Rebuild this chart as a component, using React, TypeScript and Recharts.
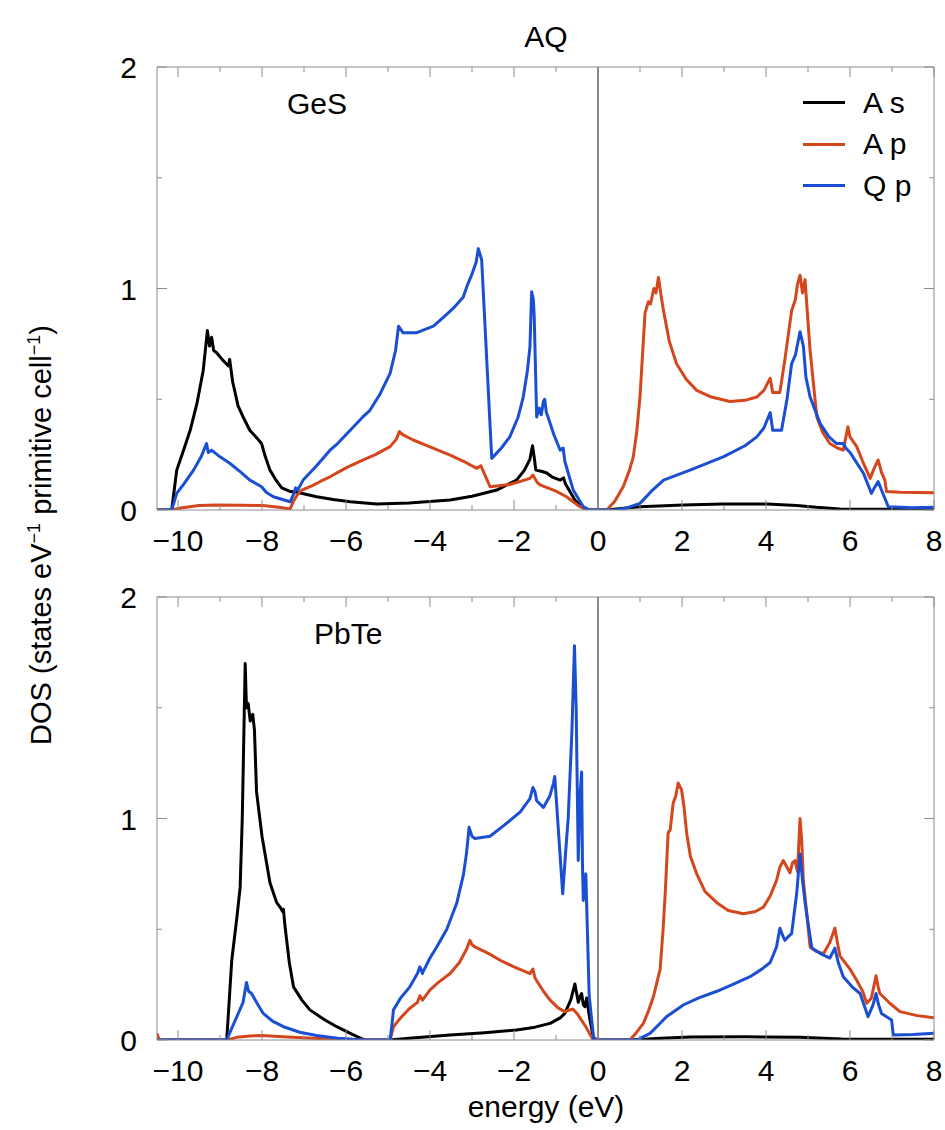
import React from 'react'
import { LineChart, Line, XAxis, YAxis, ReferenceLine, Legend } from 'recharts'

type Pt = [number, number]

// axis ticks
const xTicks = [-10, -9, -8, -7, -6, -5, -4, -3, -2, -1, 0, 1, 2, 3, 4, 5, 6, 7, 8]
const yTicks = [0, 0.5, 1, 1.5, 2]
const xMajor = [-10, -8, -6, -4, -2, 0, 2, 4, 6, 8]
const yMajor = [0, 1, 2]

const seriesNames = ['A s', 'A p', 'Q p']

// GeS panel
const gesAs: Pt[] = [
  [-10.5, 0], [-10.15, 0], [-10.03, 0.18], [-9.85, 0.28], [-9.71, 0.36], [-9.55, 0.48], [-9.4, 0.63],
  [-9.3, 0.81], [-9.25, 0.74], [-9.2, 0.78], [-9.15, 0.72], [-9.08, 0.71], [-8.95, 0.68], [-8.8, 0.65],
  [-8.77, 0.68], [-8.7, 0.58], [-8.57, 0.47], [-8.45, 0.42], [-8.29, 0.36], [-8.1, 0.32], [-8.01, 0.3],
  [-7.92, 0.24], [-7.81, 0.18], [-7.65, 0.13], [-7.53, 0.1], [-7.35, 0.085], [-7.17, 0.08], [-6.7, 0.06],
  [-6.3, 0.047], [-5.9, 0.037], [-5.27, 0.027], [-4.5, 0.032], [-3.52, 0.045], [-3.0, 0.062], [-2.41, 0.09],
  [-1.94, 0.135], [-1.75, 0.18], [-1.62, 0.23], [-1.56, 0.29], [-1.52, 0.24], [-1.48, 0.18], [-1.35, 0.175],
  [-1.22, 0.167], [-1.1, 0.15], [-0.9, 0.135], [-0.82, 0.145], [-0.78, 0.12], [-0.55, 0.045], [-0.35, 0.01],
  [-0.2, 0], [0.2, 0], [0.5, 0.006], [1, 0.015], [2.03, 0.023], [2.98, 0.027], [4.02, 0.027], [4.73, 0.02],
  [5.2, 0.012], [5.76, 0.005], [6.5, 0.003], [8, 0.003],
]
const gesAp: Pt[] = [
  [-10.5, 0], [-10.15, 0], [-9.9, 0.01], [-9.5, 0.02], [-9.08, 0.023], [-8.5, 0.022], [-7.98, 0.02],
  [-7.6, 0.012], [-7.33, 0.005], [-7.25, 0.04], [-7.13, 0.077], [-7.05, 0.09], [-6.8, 0.11], [-6.6, 0.13],
  [-6.38, 0.15], [-6.0, 0.19], [-5.59, 0.226], [-5.3, 0.25], [-4.95, 0.286], [-4.8, 0.32], [-4.73, 0.354],
  [-4.65, 0.34], [-4.4, 0.316], [-4.0, 0.285], [-3.52, 0.248], [-3.2, 0.22], [-2.89, 0.188], [-2.79, 0.2],
  [-2.72, 0.17], [-2.57, 0.105], [-2.1, 0.115], [-1.75, 0.135], [-1.62, 0.143], [-1.55, 0.158], [-1.45, 0.125],
  [-1.38, 0.113], [-1.0, 0.085], [-0.75, 0.06], [-0.43, 0.015], [-0.25, 0], [0.21, 0], [0.4, 0.04], [0.6, 0.105],
  [0.75, 0.18], [0.84, 0.24], [0.92, 0.35], [1.0, 0.51], [1.06, 0.7], [1.12, 0.89], [1.2, 0.94], [1.25, 0.93],
  [1.33, 1.0], [1.38, 0.98], [1.44, 1.05], [1.5, 0.97], [1.56, 0.9], [1.7, 0.76], [1.87, 0.66], [2.1, 0.59],
  [2.35, 0.54], [2.7, 0.51], [3.14, 0.49], [3.5, 0.495], [3.78, 0.51], [3.95, 0.54], [4.1, 0.595], [4.16, 0.53],
  [4.33, 0.53], [4.45, 0.68], [4.61, 0.9], [4.7, 0.95], [4.75, 1.02], [4.81, 1.06], [4.87, 0.98], [4.93, 1.04],
  [5.0, 0.85], [5.05, 0.72], [5.21, 0.42], [5.35, 0.35], [5.52, 0.3], [5.7, 0.28], [5.84, 0.27], [5.95, 0.376],
  [6.0, 0.33], [6.16, 0.286], [6.3, 0.22], [6.48, 0.143], [6.58, 0.19], [6.67, 0.226], [6.75, 0.17],
  [6.83, 0.135], [6.87, 0.083], [7.2, 0.08], [8, 0.078],
]
const gesQp: Pt[] = [
  [-10.5, 0], [-10.15, 0], [-10.03, 0.075], [-9.85, 0.12], [-9.63, 0.18], [-9.45, 0.24], [-9.32, 0.3],
  [-9.28, 0.26], [-9.2, 0.27], [-9.0, 0.24], [-8.76, 0.21], [-8.5, 0.17], [-8.29, 0.135], [-8.01, 0.105],
  [-7.9, 0.08], [-7.73, 0.06], [-7.33, 0.037], [-7.25, 0.07], [-7.2, 0.1], [-7.15, 0.09], [-7.02, 0.135],
  [-6.7, 0.2], [-6.38, 0.27], [-6.2, 0.3], [-5.9, 0.36], [-5.6, 0.42], [-5.43, 0.45], [-5.2, 0.52],
  [-4.95, 0.617], [-4.82, 0.72], [-4.75, 0.83], [-4.64, 0.8], [-4.33, 0.8], [-3.92, 0.83], [-3.68, 0.87],
  [-3.45, 0.91], [-3.21, 0.96], [-3.1, 1.02], [-3.01, 1.06], [-2.9, 1.12], [-2.85, 1.18], [-2.77, 1.13],
  [-2.53, 0.233], [-2.3, 0.28], [-2.1, 0.33], [-1.9, 0.42], [-1.78, 0.51], [-1.68, 0.63], [-1.62, 0.737],
  [-1.58, 0.985], [-1.54, 0.95], [-1.52, 0.88], [-1.46, 0.42], [-1.4, 0.46], [-1.35, 0.43], [-1.3, 0.49],
  [-1.27, 0.5], [-1.23, 0.44], [-1.19, 0.42], [-1.05, 0.34], [-0.9, 0.27], [-0.83, 0.28], [-0.79, 0.22],
  [-0.59, 0.09], [-0.35, 0.015], [-0.2, 0], [0.45, 0], [0.7, 0.01], [1.0, 0.03], [1.3, 0.09], [1.56, 0.135],
  [2.19, 0.18], [2.98, 0.24], [3.5, 0.29], [3.78, 0.33], [3.95, 0.37], [4.1, 0.44], [4.16, 0.36], [4.37, 0.36],
  [4.5, 0.5], [4.61, 0.66], [4.7, 0.7], [4.81, 0.805], [4.89, 0.74], [4.95, 0.6], [5.05, 0.51], [5.29, 0.39],
  [5.5, 0.33], [5.68, 0.3], [5.84, 0.3], [5.9, 0.28], [6.0, 0.26], [6.32, 0.166], [6.51, 0.075], [6.58, 0.1],
  [6.67, 0.128], [6.75, 0.09], [6.91, 0.015], [7.5, 0.01], [8, 0.012],
]

// PbTe panel
const pbteAs: Pt[] = [
  [-10.5, 0], [-8.84, 0], [-8.72, 0.36], [-8.6, 0.55], [-8.52, 0.69], [-8.47, 1.0], [-8.43, 1.4], [-8.4, 1.7],
  [-8.37, 1.5], [-8.33, 1.52], [-8.28, 1.44], [-8.22, 1.47], [-8.18, 1.4], [-8.13, 1.12], [-8.0, 0.92],
  [-7.81, 0.71], [-7.65, 0.62], [-7.57, 0.6], [-7.51, 0.58], [-7.49, 0.59], [-7.45, 0.51], [-7.35, 0.35],
  [-7.25, 0.24], [-7.05, 0.18], [-6.86, 0.136], [-6.5, 0.09], [-6.22, 0.06], [-5.85, 0.025], [-5.55, 0],
  [-4.95, 0], [-4.5, 0.008], [-3.52, 0.023], [-2.7, 0.033], [-1.94, 0.045], [-1.5, 0.058], [-1.14, 0.075],
  [-0.9, 0.1], [-0.79, 0.12], [-0.65, 0.18], [-0.55, 0.253], [-0.47, 0.17], [-0.42, 0.2], [-0.39, 0.21],
  [-0.35, 0.16], [-0.31, 0.15], [-0.27, 0.19], [-0.2, 0.1], [-0.11, 0.01], [0, 0], [0.8, 0], [1.5, 0.008],
  [2.2, 0.014], [3.5, 0.015], [4.8, 0.012], [5.8, 0.005], [6.8, 0.003], [8, 0.003],
]
const pbteAp: Pt[] = [
  [-10.5, 0.03], [-10.45, 0], [-8.84, 0], [-8.6, 0.012], [-8.29, 0.018], [-8.0, 0.02], [-7.5, 0.015],
  [-6.8, 0.008], [-6.0, 0.003], [-5.5, 0], [-4.95, 0], [-4.87, 0.06], [-4.7, 0.1], [-4.5, 0.14], [-4.3, 0.17],
  [-4.24, 0.2], [-4.18, 0.18], [-4.0, 0.226], [-3.8, 0.26], [-3.52, 0.3], [-3.3, 0.35], [-3.13, 0.41],
  [-3.05, 0.45], [-3.0, 0.43], [-2.93, 0.42], [-2.6, 0.39], [-2.33, 0.36], [-2.0, 0.33], [-1.62, 0.3],
  [-1.55, 0.32], [-1.5, 0.28], [-1.3, 0.22], [-1.14, 0.18], [-0.95, 0.145], [-0.79, 0.128], [-0.6, 0.14],
  [-0.5, 0.12], [-0.29, 0.06], [-0.13, 0.005], [0, 0], [0.76, 0], [0.9, 0.03], [1.08, 0.075], [1.2, 0.13],
  [1.32, 0.196], [1.48, 0.32], [1.55, 0.5], [1.6, 0.66], [1.67, 0.935], [1.72, 0.95], [1.79, 1.07],
  [1.85, 1.1], [1.91, 1.16], [1.99, 1.13], [2.05, 1.05], [2.11, 0.935], [2.2, 0.83], [2.35, 0.75],
  [2.55, 0.67], [2.83, 0.62], [3.1, 0.585], [3.46, 0.57], [3.75, 0.58], [3.94, 0.6], [4.1, 0.65], [4.25, 0.72],
  [4.33, 0.78], [4.41, 0.81], [4.5, 0.78], [4.57, 0.755], [4.63, 0.8], [4.69, 0.81], [4.75, 0.76], [4.81, 1.0],
  [4.85, 0.9], [4.89, 0.72], [5.05, 0.42], [5.2, 0.4], [5.37, 0.39], [5.52, 0.44], [5.64, 0.505], [5.7, 0.44],
  [5.76, 0.38], [6.0, 0.32], [6.16, 0.27], [6.3, 0.22], [6.4, 0.166], [6.51, 0.19], [6.62, 0.29], [6.67, 0.24],
  [6.71, 0.21], [6.95, 0.166], [7.19, 0.128], [7.6, 0.11], [8, 0.1],
]
const pbteQp: Pt[] = [
  [-10.5, 0], [-8.84, 0], [-8.75, 0.04], [-8.6, 0.105], [-8.45, 0.17], [-8.37, 0.26], [-8.32, 0.22],
  [-8.25, 0.21], [-8.1, 0.16], [-7.97, 0.12], [-7.75, 0.085], [-7.49, 0.06], [-7.1, 0.035], [-6.7, 0.02],
  [-6.2, 0.008], [-5.6, 0], [-4.95, 0], [-4.9, 0.08], [-4.87, 0.136], [-4.7, 0.19], [-4.48, 0.24], [-4.3, 0.3],
  [-4.24, 0.33], [-4.18, 0.3], [-4.16, 0.31], [-4.0, 0.37], [-3.84, 0.42], [-3.6, 0.5], [-3.36, 0.62],
  [-3.2, 0.75], [-3.13, 0.845], [-3.07, 0.96], [-3.0, 0.92], [-2.93, 0.91], [-2.57, 0.92], [-2.3, 0.96],
  [-2.1, 0.99], [-1.85, 1.03], [-1.62, 1.09], [-1.55, 1.14], [-1.5, 1.12], [-1.46, 1.08], [-1.3, 1.05],
  [-1.15, 1.1], [-1.06, 1.16], [-1.03, 1.19], [-0.84, 0.66], [-0.77, 0.85], [-0.71, 1.0], [-0.62, 1.4],
  [-0.56, 1.78], [-0.52, 1.5], [-0.47, 0.81], [-0.43, 1.1], [-0.39, 1.21], [-0.37, 0.8], [-0.35, 0.63],
  [-0.29, 0.75], [-0.21, 0.2], [-0.1, 0], [0.92, 0], [1.24, 0.03], [1.45, 0.07], [1.63, 0.105], [2.03, 0.158],
  [2.4, 0.19], [2.83, 0.22], [3.2, 0.25], [3.62, 0.286], [3.9, 0.32], [4.1, 0.35], [4.25, 0.42], [4.33, 0.505],
  [4.4, 0.47], [4.45, 0.45], [4.55, 0.47], [4.61, 0.48], [4.73, 0.66], [4.81, 0.84], [4.87, 0.72], [4.93, 0.62],
  [5.09, 0.415], [5.3, 0.39], [5.52, 0.37], [5.64, 0.415], [5.72, 0.35], [5.84, 0.286], [6.05, 0.24],
  [6.24, 0.21], [6.35, 0.15], [6.43, 0.105], [6.55, 0.16], [6.62, 0.21], [6.68, 0.16], [6.75, 0.12],
  [6.99, 0.09], [7.03, 0.023], [7.5, 0.025], [8, 0.03],
]

const FONT = '"Liberation Sans", Arial, Helvetica, sans-serif'
const FS = 30
const AXIS = '#8c8c8c'
const COLORS = ['#000000', '#d4461c', '#1a4ed3']

const toRows = (pts: Pt[]) => pts.map(([x, y]) => ({ x, y }))
const fmt = (v: number) => (v < 0 ? `\u2212${-v}` : `${v}`)

const BottomTick = ({ x, y, payload }: any) => {
  const v = payload.value as number
  const major = xMajor.includes(v)
  return (
    <g>
      <line x1={x} x2={x} y1={y} y2={y - (major ? 10 : 5)} stroke={AXIS} />
      {major && (
        <text x={x} y={y + 41} textAnchor="middle" fontSize={FS} fontFamily={FONT} fill="#000">
          {fmt(v)}
        </text>
      )}
    </g>
  )
}

const TopTick = ({ x, y, payload }: any) => (
  <line x1={x} x2={x} y1={y} y2={y + (xMajor.includes(payload.value) ? 10 : 5)} stroke={AXIS} />
)

const LeftTick = ({ x, y, payload }: any) => {
  const v = payload.value as number
  const major = yMajor.includes(v)
  return (
    <g>
      <line x1={x} x2={x + (major ? 10 : 5)} y1={y} y2={y} stroke={AXIS} />
      {major && (
        <text x={x - 20} y={y + 11} textAnchor="end" fontSize={FS} fontFamily={FONT} fill="#000">
          {fmt(v)}
        </text>
      )}
    </g>
  )
}

const RightTick = ({ x, y, payload }: any) => (
  <line x1={x} x2={x - (yMajor.includes(payload.value) ? 10 : 5)} y1={y} y2={y} stroke={AXIS} />
)

const renderLegend = (props: any) => {
  const items = [...props.payload].sort(
    (a: any, b: any) => seriesNames.indexOf(a.value) - seriesNames.indexOf(b.value),
  )
  return (
    <div style={{ fontFamily: FONT, fontSize: FS, color: '#000' }}>
      {items.map((e: any) => (
        <div key={e.value} style={{ display: 'flex', alignItems: 'center', height: 41.5 }}>
          <span style={{ display: 'inline-block', width: 42, height: 3, background: e.color, marginRight: 18 }} />
          <span style={{ whiteSpace: 'pre' }}>{e.value}</span>
        </div>
      ))}
    </div>
  )
}

interface PanelProps {
  top: number
  label: string
  labelLeft: number
  series: Pt[][]
  legend?: boolean
}

const Panel = ({ top, label, labelLeft, series, legend }: PanelProps) => (
  <div style={{ position: 'absolute', left: 0, top, width: 945, height: 560 }}>
    <LineChart width={945} height={560} margin={{ top: 66, right: 10, bottom: 10, left: 97 }}>
      <XAxis
        xAxisId="b"
        dataKey="x"
        type="number"
        domain={[-10.5, 8]}
        allowDataOverflow
        ticks={xTicks}
        interval={0}
        height={40}
        tickSize={0}
        tickMargin={0}
        tickLine={false}
        axisLine={{ stroke: AXIS }}
        tick={(p: any) => <BottomTick {...p} />}
      />
      <XAxis
        xAxisId="t"
        orientation="top"
        dataKey="x"
        type="number"
        domain={[-10.5, 8]}
        allowDataOverflow
        ticks={xTicks}
        interval={0}
        height={1}
        tickSize={0}
        tickMargin={0}
        tickLine={false}
        axisLine={{ stroke: AXIS }}
        tick={(p: any) => <TopTick {...p} />}
      />
      <YAxis
        yAxisId="l"
        type="number"
        domain={[0, 2]}
        allowDataOverflow
        ticks={yTicks}
        interval={0}
        width={60}
        tickSize={0}
        tickMargin={0}
        tickLine={false}
        axisLine={{ stroke: AXIS }}
        tick={(p: any) => <LeftTick {...p} />}
      />
      <YAxis
        yAxisId="r"
        orientation="right"
        type="number"
        domain={[0, 2]}
        allowDataOverflow
        ticks={yTicks}
        interval={0}
        width={1}
        tickSize={0}
        tickMargin={0}
        tickLine={false}
        axisLine={{ stroke: AXIS }}
        tick={(p: any) => <RightTick {...p} />}
      />
      <ReferenceLine xAxisId="b" yAxisId="l" x={0} stroke="#111" strokeWidth={1} />
      {series.map((s, i) => (
        <Line
          key={seriesNames[i]}
          xAxisId="b"
          yAxisId="l"
          data={toRows(s)}
          dataKey="y"
          name={seriesNames[i]}
          type="linear"
          stroke={COLORS[i]}
          strokeWidth={3}
          strokeLinejoin="round"
          dot={false}
          activeDot={false}
          isAnimationActive={false}
        />
      ))}
      {legend && (
        <Legend
          layout="horizontal"
          verticalAlign="middle"
          align="center"
          content={renderLegend}
          wrapperStyle={{ left: 803, top: 82, width: 140 }}
        />
      )}
    </LineChart>
    <div
      style={{
        position: 'absolute',
        left: labelLeft,
        top: 86,
        fontFamily: FONT,
        fontSize: FS,
        lineHeight: '36px',
        color: '#000',
      }}
    >
      {label}
    </div>
  </div>
)

const App = () => (
  <div style={{ position: 'absolute', left: 0, top: 0, width: 945, height: 1130, background: '#fff' }}>
    <div
      style={{
        position: 'absolute',
        left: 0,
        width: 1092,
        top: 19,
        textAlign: 'center',
        fontFamily: FONT,
        fontSize: FS,
        lineHeight: '36px',
      }}
    >
      AQ
    </div>
    <Panel top={0} label="GeS" labelLeft={287} series={[gesAs, gesAp, gesQp]} legend />
    <Panel top={530} label="PbTe" labelLeft={314} series={[pbteAs, pbteAp, pbteQp]} />
    <div
      style={{
        position: 'absolute',
        left: 0,
        width: 1092,
        top: 1089,
        textAlign: 'center',
        fontFamily: FONT,
        fontSize: FS,
        lineHeight: '36px',
      }}
    >
      energy (eV)
    </div>
    <div
      style={{
        position: 'absolute',
        left: 41 - 300,
        top: 535 - 18,
        width: 600,
        height: 36,
        lineHeight: '36px',
        textAlign: 'center',
        fontFamily: FONT,
        fontSize: 29,
        transform: 'rotate(-90deg)',
        transformOrigin: 'center',
        whiteSpace: 'nowrap',
      }}
    >
      DOS (states eV<sup style={{ fontSize: 18, lineHeight: 0 }}>{'\u22121'}</sup> primitive cell
      <sup style={{ fontSize: 18, lineHeight: 0 }}>{'\u22121'}</sup>)
    </div>
  </div>
)

export default App
